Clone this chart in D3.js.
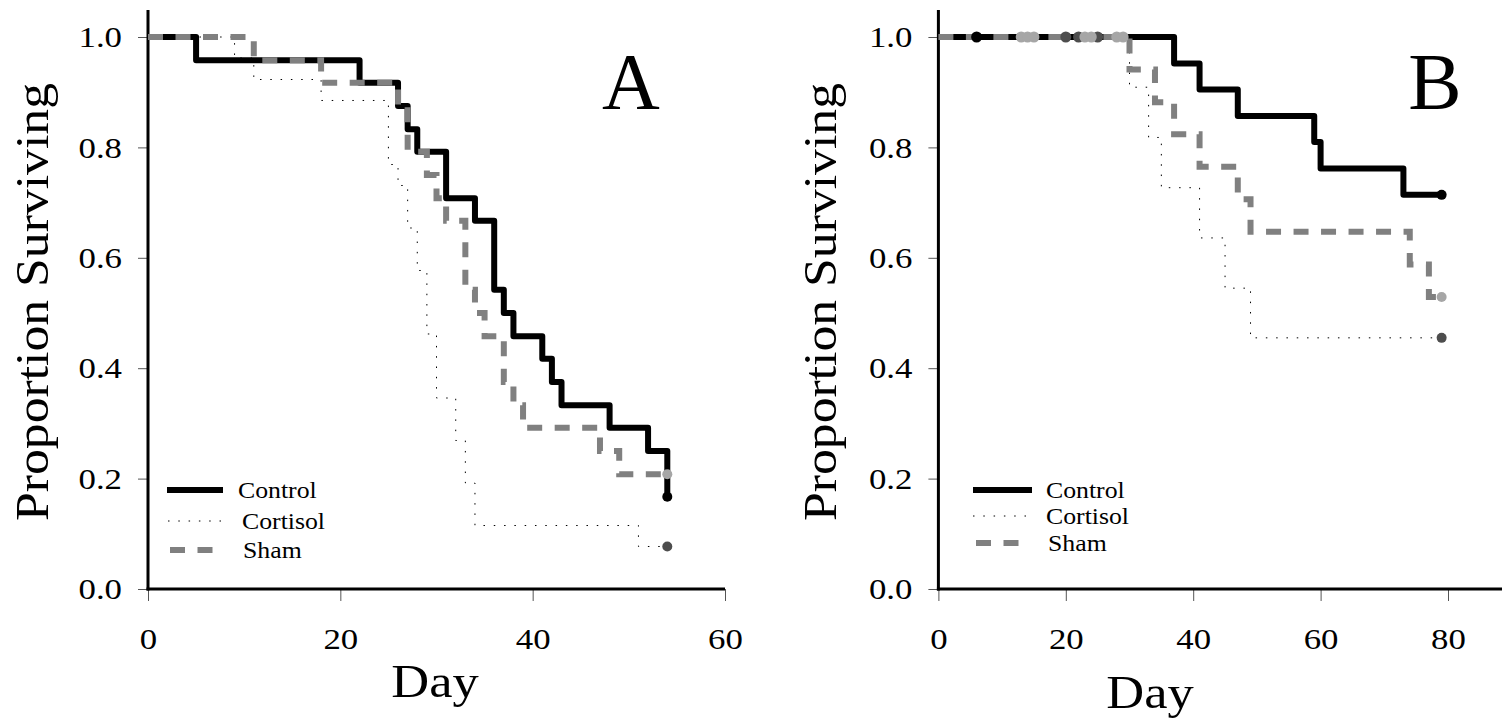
<!DOCTYPE html>
<html><head><meta charset="utf-8">
<script src="https://cdn.jsdelivr.net/npm/d3@7"></script>
<style>
html,body{margin:0;padding:0;background:#fff;}
svg text{font-family:"Liberation Serif","Times New Roman",serif;fill:#000;}
</style></head>
<body>
<svg id="chart" width="1502" height="718"></svg>
<script>
// ---------- DATA ----------
const yTicks = [0, 0.2, 0.4, 0.6, 0.8, 1.0];
const xTicksA = [0, 20, 40, 60];
const xTicksB = [0, 20, 40, 60, 80];
const seriesNames = ["Control", "Cortisol", "Sham"];

// Panel A (event day, proportion surviving after event)
const ctrlA_day  = [0, 5, 22, 26, 27, 28, 31, 34, 36, 37, 38, 41, 42, 43, 48, 52, 54];
const ctrlA_surv = [1, 0.958, 0.917, 0.875, 0.833, 0.792, 0.708, 0.667, 0.542, 0.500, 0.458, 0.417, 0.375, 0.333, 0.292, 0.250, 0.167];
const cortA_day  = [0, 9, 11, 18, 25, 26, 27, 28, 29, 30, 32, 33, 34, 51];
const cortA_surv = [1, 0.962, 0.923, 0.885, 0.769, 0.731, 0.654, 0.577, 0.462, 0.346, 0.269, 0.192, 0.115, 0.077];
const shamA_day  = [0, 11, 18, 26, 27, 29, 30, 31, 33, 34, 35, 37, 38, 39, 47, 49];
const shamA_surv = [1, 0.958, 0.917, 0.875, 0.792, 0.750, 0.708, 0.667, 0.542, 0.500, 0.458, 0.375, 0.333, 0.292, 0.250, 0.208];
const endA = 54;

// Panel B
const ctrlB_day  = [0, 37, 41, 47, 59, 60, 73];
const ctrlB_surv = [1, 0.952, 0.905, 0.857, 0.810, 0.762, 0.714];
const cortB_day  = [0, 30, 33, 35, 41, 45, 49];
const cortB_surv = [1, 0.909, 0.818, 0.727, 0.636, 0.545, 0.455];
const shamB_day  = [0, 30, 34, 37, 41, 47, 49, 74, 77];
const shamB_surv = [1, 0.941, 0.882, 0.824, 0.765, 0.706, 0.647, 0.588, 0.529];
const endB = 79;
// censored observations on the 1.0 line (panel B)
const ctrlB_cens = [6];
const cortB_cens = [20, 22, 25];
const shamB_cens = [13, 14, 15, 23, 24, 28, 29];

// ---------- STYLE ----------
const styles = {
  Control:  {stroke:"#000", width:6, dash:null, join:"round", dot:"#000"},
  Cortisol: {stroke:"#000", width:1, dash:"1.5,8.8", join:"miter", dot:"#4d4d4d"},
  Sham:     {stroke:"#808080", width:6, dash:"15,12.5", join:"miter", dot:"#a6a6a6"}
};

const svg = d3.select("#chart");
const FONT = '"Liberation Serif","Times New Roman",serif';
const WIDEN = 1.16;

function widen(sel, f){
  sel.each(function(){
    const w = this.getComputedTextLength();
    d3.select(this).attr("textLength", w*(f||WIDEN)).attr("lengthAdjust","spacingAndGlyphs");
  });
}

function zip(days, surv){ return days.map((d,i)=>({d:d, s:surv[i]})); }

function panel(cfg){
  const g = svg.append("g");
  const x = d3.scaleLinear().domain(cfg.xDomain).range(cfg.xRange);
  const y = d3.scaleLinear().domain([0,1]).range([589, 37]);

  // y axis ticks & labels
  const ya = d3.axisLeft(y).tickValues(yTicks).tickFormat(d3.format(".1f")).tickSize(10).tickPadding(16);
  const yg = g.append("g").attr("transform",`translate(${x(0)},0)`).call(ya);
  yg.select(".domain").remove();
  yg.selectAll(".tick line").attr("stroke","#555").attr("stroke-width",1);
  yg.selectAll("text").style("font-family",FONT).style("font-size","30px").attr("fill","#000");
  widen(yg.selectAll("text"));

  // x axis ticks & labels
  const xa = d3.axisBottom(x).tickValues(cfg.xTicks).tickFormat(d3.format("d")).tickSize(12).tickPadding(27);
  const xg = g.append("g").attr("transform",`translate(0,${y(0)})`).call(xa);
  xg.select(".domain").remove();
  xg.selectAll(".tick line").attr("stroke","#555").attr("stroke-width",1);
  xg.selectAll("text").style("font-family",FONT).style("font-size","30px").attr("fill","#000");
  widen(xg.selectAll("text"));

  // axis lines
  g.append("line").attr("x1",x(0)).attr("x2",x(0)).attr("y1",10).attr("y2",y(0)+1.5)
    .attr("stroke","#000").attr("stroke-width",3);
  g.append("line").attr("x1",x(0)-1.5).attr("x2",cfg.xAxisEnd).attr("y1",y(0)).attr("y2",y(0))
    .attr("stroke","#000").attr("stroke-width",3);

  // axis titles
  g.append("text").attr("transform",`translate(${cfg.yLabelX},${cfg.yLabelY}) rotate(-90)`)
    .attr("text-anchor","middle").style("font-size","46px")
    .attr("textLength",438).attr("lengthAdjust","spacingAndGlyphs")
    .text("Proportion Surviving");
  const dayT = g.append("text").attr("x",cfg.dayX).attr("y",cfg.dayY).attr("text-anchor","middle")
    .style("font-size","46px").text("Day");
  widen(dayT, 1.14);
  g.append("text").attr("x",cfg.letterX).attr("y",109).attr("text-anchor","middle")
    .style("font-size","80px").text(cfg.letter);

  // curves
  const line = d3.line().x(p=>x(p.d)).y(p=>y(p.s)).curve(d3.curveStepAfter);
  cfg.series.forEach(sr=>{
    const pts = zip(sr.days, sr.surv);
    pts.push({d:cfg.end, s:sr.surv[sr.surv.length-1]});
    sr._pts = pts;
  });
  cfg.series.forEach(sr=>{
    const st = styles[sr.name];
    g.append("path").datum(sr._pts).attr("d",line).attr("fill","none")
      .attr("stroke",st.stroke).attr("stroke-width",st.width)
      .attr("stroke-linejoin",st.join)
      .attr("stroke-dasharray",st.dash);
  });
  cfg.series.forEach(sr=>{
    const st = styles[sr.name];
    (sr.cens||[]).forEach(c=>{
      g.append("circle").attr("cx",x(c)).attr("cy",y(1)).attr("r",5.5).attr("fill",st.dot);
    });
    const last = sr._pts[sr._pts.length-1];
    g.append("circle").attr("cx",x(last.d)).attr("cy",y(last.s)).attr("r",5).attr("fill",st.dot);
  });

  // legend
  const L = cfg.legend;
  seriesNames.forEach((n,i)=>{
    const st = styles[n];
    const r = L.rows[i];
    g.append("line").attr("x1",r.x1).attr("x2",r.x2).attr("y1",r.y).attr("y2",r.y)
      .attr("stroke",st.stroke).attr("stroke-width",st.width).attr("stroke-dasharray",st.dash);
    const t = g.append("text").attr("x",r.tx).attr("y",r.y+8).style("font-size","23px").text(n);
    widen(t, 1.12);
  });
}

panel({
  xDomain:[0,60], xRange:[148,725], xTicks:xTicksA, xAxisEnd:725, end:endA,
  yLabelX:48, yLabelY:302, dayX:435, dayY:697, letter:"A", letterX:631,
  series:[
    {name:"Control", days:ctrlA_day, surv:ctrlA_surv},
    {name:"Cortisol", days:cortA_day, surv:cortA_surv},
    {name:"Sham", days:shamA_day, surv:shamA_surv}
  ],
  legend:{rows:[
    {x1:167,x2:223,y:490,tx:238},
    {x1:168,x2:222,y:521,tx:242},
    {x1:170,x2:213,y:550,tx:243}
  ]}
});

panel({
  xDomain:[0,80], xRange:[938.4,1448], xTicks:xTicksB, xAxisEnd:1502, end:endB,
  yLabelX:836, yLabelY:302, dayX:1150, dayY:708, letter:"B", letterX:1435,
  series:[
    {name:"Control", days:ctrlB_day, surv:ctrlB_surv, cens:ctrlB_cens},
    {name:"Cortisol", days:cortB_day, surv:cortB_surv, cens:cortB_cens},
    {name:"Sham", days:shamB_day, surv:shamB_surv, cens:shamB_cens}
  ],
  legend:{rows:[
    {x1:973,x2:1032,y:490,tx:1046},
    {x1:973,x2:1028,y:516,tx:1046},
    {x1:976,x2:1020,y:543,tx:1048}
  ]}
});
</script>
</body></html>
